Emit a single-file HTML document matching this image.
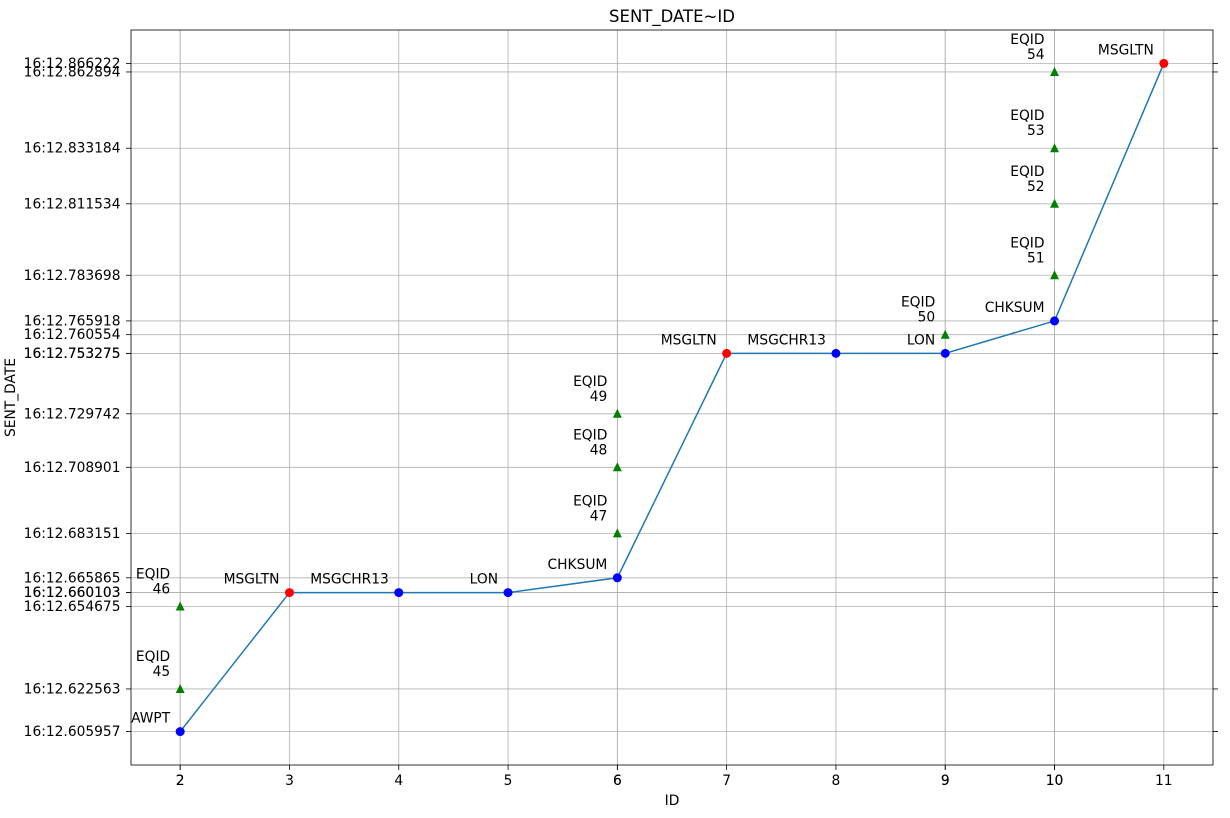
<!DOCTYPE html>
<html><head><meta charset="utf-8"><style>
html,body{margin:0;padding:0;background:#fff;}
svg text{font-family:"DejaVu Sans","Liberation Sans",sans-serif;}
</style></head><body>
<svg id="chart" width="1230" height="813" xmlns="http://www.w3.org/2000/svg"></svg>
<script>
const lineIds=[2,3,4,5,6,7,8,9,10,11];
const lineVals=[0.605957,0.660103,0.660103,0.660103,0.665865,0.753275,0.753275,0.753275,0.765918,0.866222];
const lineLabels=["AWPT","MSGLTN","MSGCHR13","LON","CHKSUM","MSGLTN","MSGCHR13","LON","CHKSUM","MSGLTN"];
const lineColors=["blue","red","blue","blue","blue","red","blue","blue","blue","red"];
const eqIds=[2,2,6,6,6,9,10,10,10,10];
const eqVals=[0.622563,0.654675,0.683151,0.708901,0.729742,0.760554,0.783698,0.811534,0.833184,0.862894];
const eqLabels=["45","46","47","48","49","50","51","52","53","54"];
const xTicks=[2,2,3,4,5,6,6,7,8,9,9,10,10,11];
const yTicks=[0.605957,0.622563,0.654675,0.660103,0.660103,0.665865,0.683151,0.708901,0.729742,0.753275,0.753275,0.760554,0.765918,0.783698,0.811534,0.833184,0.862894,0.866222];
const L=131,R=1213,T=30,B=765;
const FS=13.8;
const allX=lineIds.concat(eqIds),allY=lineVals.concat(eqVals);
const xmin0=Math.min(...allX),xmax0=Math.max(...allX),ymin0=Math.min(...allY),ymax0=Math.max(...allY);
const xm=(xmax0-xmin0)*0.05,ym=(ymax0-ymin0)*0.05;
const X=v=>L+(v-(xmin0-xm))/((xmax0-xmin0)+2*xm)*(R-L);
const Y=v=>B-(v-(ymin0-ym))/((ymax0-ymin0)+2*ym)*(B-T);
const svg=document.getElementById('chart');
const NS="http://www.w3.org/2000/svg";
function mk(tag,attrs,parent){const e=document.createElementNS(NS,tag);for(const k in attrs)e.setAttribute(k,attrs[k]);(parent||svg).appendChild(e);return e;}
function txt(s,x,y,anchor,size,name){const t=mk('text',{x:x,y:y,'text-anchor':anchor,'font-size':size,fill:'#000'});t.textContent=s;


return t;}
const fmt=v=>"16:12."+v.toFixed(6).slice(2);
xTicks.forEach(v=>{const x=X(v);
const g=mk('line',{x1:x,x2:x,y1:T,y2:B,stroke:'#b0b0b0','stroke-width':0.8});


mk('line',{x1:x,x2:x,y1:B,y2:B+5,stroke:'#000','stroke-width':0.8});
txt(String(v),x,B+20,'middle',FS,'x-tick-label');});
yTicks.forEach(v=>{const y=Y(v);
const g=mk('line',{x1:L,x2:R,y1:y,y2:y,stroke:'#b0b0b0','stroke-width':0.8});


mk('line',{x1:L-5,x2:L,y1:y,y2:y,stroke:'#000','stroke-width':0.8});
mk('line',{x1:R,x2:R+5,y1:y,y2:y,stroke:'#000','stroke-width':0.8});
txt(fmt(v),L-10.5,y+4.5,'end',FS,'y-tick-label');});
const pl=mk('polyline',{points:lineIds.map((d,i)=>X(d)+','+Y(lineVals[i])).join(' '),fill:'none',stroke:'#1f77b4','stroke-width':1.5});


lineIds.forEach((d,i)=>{const x=X(d),y=Y(lineVals[i]);
const c=mk('circle',{cx:x,cy:y,r:4.5,fill:lineColors[i]});


txt(lineLabels[i],x-10,y-9,'end',FS,'point-label');});
eqIds.forEach((d,i)=>{const x=X(d),y=Y(eqVals[i]);
const p=mk('polygon',{points:`${x},${y-5} ${x-4.5},${y+4} ${x+4.5},${y+4}`,fill:'green'});


txt('EQID',x-10,y-28,'end',FS,'eqid-label');
txt(eqLabels[i],x-10,y-13,'end',FS,'eqid-number');});
const f=mk('rect',{x:L,y:T,width:R-L,height:B-T,fill:'none',stroke:'#000','stroke-width':0.8});


txt('SENT_DATE~ID',(L+R)/2,22,'middle',16.5,'chart-title');
txt('ID',(L+R)/2,805,'middle',FS,'x-axis-title');
const yt=txt('SENT_DATE',15,(T+B)/2,'middle',FS,'y-axis-title');
yt.setAttribute('transform',`rotate(-90 15 ${(T+B)/2})`);
</script>
</body></html>
